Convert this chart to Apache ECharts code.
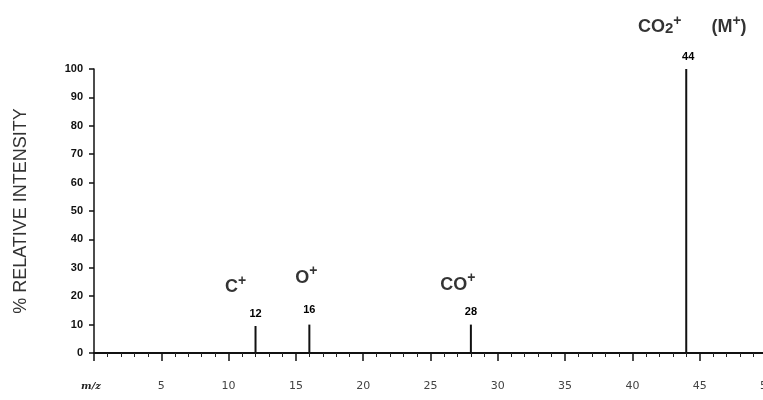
<!DOCTYPE html>
<html><head><meta charset="utf-8">
<script src="https://cdn.jsdelivr.net/npm/echarts@6/dist/echarts.min.js"></script>
<style>html,body{margin:0;padding:0;background:#fff}#c{width:763px;height:400px}</style>
</head><body><div id="c"></div>
<script>
var mz = [12, 16, 28, 44];
var intensity = [9.5, 10, 10, 100];
var massLabels = ['12', '16', '28', '44'];
var ionLabels = ['{i|C}{s|+}', '{i|O}{s|+}', '{i|CO}{s|+}', '{i|CO}{b|2}{s|+}{i|      (M}{s|+}{i|)}'];
var xTicks = [0, 5, 10, 15, 20, 25, 30, 35, 40, 45, 50];
var yTicks = [0, 10, 20, 30, 40, 50, 60, 70, 80, 90, 100];

var ionOffsets = [[-20, -41], [-3, -49], [-13, -42], [6, -44]];
var numOffsets = [[0, 0], [0, -2], [0, 0], [2, 0]];

var barData = mz.map(function (m, i) {
  return { value: [m, intensity[i]], label: { offset: numOffsets[i], formatter: massLabels[i] } };
});
var ionData = mz.map(function (m, i) {
  return { value: [m, intensity[i]], label: { offset: ionOffsets[i], formatter: ionLabels[i] } };
});

var chart = echarts.init(document.getElementById('c'), null, { renderer: 'canvas' });
chart.setOption({
  animation: false,
  backgroundColor: '#fff',
  grid: { left: 94, right: -4, top: 69, bottom: 47, containLabel: false, outerBoundsMode: 'none' },
  xAxis: {
    type: 'value', min: 0, max: 50, interval: 5,
    axisLine: { show: true, lineStyle: { color: '#111', width: 2 } },
    axisTick: { show: true, length: 8, lineStyle: { color: '#111', width: 1.5 } },
    minorTick: { show: true, splitNumber: 5, length: 4, lineStyle: { color: '#222', width: 1 } },
    splitLine: { show: false },
    axisLabel: {
      margin: 28, color: '#444', fontSize: 11, fontFamily: 'DejaVu Sans', hideOverlap: false,
      formatter: function (v) { return v === 0 ? '{m|m/z}' : String(v); },
      rich: { m: { fontStyle: 'italic', fontWeight: 'bold', fontSize: 10, color: '#222', fontFamily: 'DejaVu Serif', padding: [0, 6, 0, 0] } }
    }
  },
  yAxis: {
    type: 'value', min: 0, max: 100, interval: 10,
    name: '% RELATIVE INTENSITY', nameLocation: 'middle', nameGap: 64,
    nameTextStyle: { color: '#333', fontSize: 18, fontFamily: 'Liberation Sans' },
    axisLine: { show: true, lineStyle: { color: '#111', width: 1.5 } },
    axisTick: { show: true, length: 5, lineStyle: { color: '#111', width: 1.5 } },
    splitLine: { show: false },
    axisLabel: {
      margin: 11, color: '#111', fontSize: 11, fontWeight: 'bold', fontFamily: 'Liberation Sans',
      formatter: function (v) { return yTicks.indexOf(v) >= 0 ? String(v) : ''; }
    }
  },
  series: [
    {
      type: 'bar', barWidth: 2, data: barData,
      itemStyle: { color: '#111' },
      label: { show: true, position: 'top', distance: 7, color: '#000', fontSize: 11, fontWeight: 'bold', fontFamily: 'Liberation Sans' }
    },
    {
      type: 'scatter', symbolSize: 0, data: ionData, silent: true,
      label: {
        show: true, position: 'inside', color: '#000',
        rich: {
          i: { fontSize: 18, fontWeight: 'bold', fontFamily: 'Liberation Sans', color: '#000', verticalAlign: 'bottom', lineHeight: 22 },
          s: { fontSize: 14, fontWeight: 'bold', fontFamily: 'Liberation Sans', color: '#000', verticalAlign: 'top', lineHeight: 22 },
          b: { fontSize: 15, fontWeight: 'bold', fontFamily: 'Liberation Sans', color: '#000', verticalAlign: 'bottom', lineHeight: 16 }
        }
      }
    }
  ]
});
</script></body></html>
